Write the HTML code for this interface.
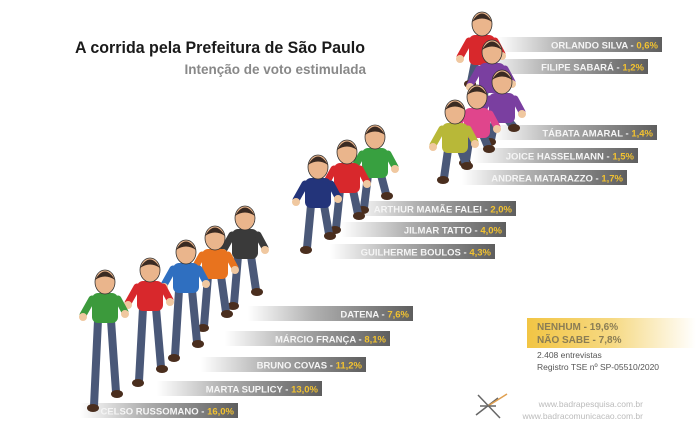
<!DOCTYPE html>
<html><head><meta charset="utf-8">
<style>
html,body{margin:0;padding:0;background:#fff;}
svg{display:block;font-family:"Liberation Sans",sans-serif;}
</style></head>
<body>
<svg id="chart" width="696" height="430" viewBox="0 0 696 430">
<defs>
<linearGradient id="barG" x1="0" x2="1" y1="0" y2="0">
<stop offset="0" stop-color="#ffffff"/>
<stop offset="0.4" stop-color="#b0b0b0"/>
<stop offset="1" stop-color="#5e5e5e"/>
</linearGradient>
<linearGradient id="yelG" x1="0" x2="1" y1="0" y2="0">
<stop offset="0" stop-color="#f2c544"/>
<stop offset="0.5" stop-color="#f6d982"/>
<stop offset="1" stop-color="#ffffff"/>
</linearGradient>
</defs>
<text x="75" y="53" font-size="17" fill="#1a1a1a" font-weight="bold" textLength="290" lengthAdjust="spacingAndGlyphs">A corrida pela Prefeitura de São Paulo</text>
<text x="366" y="74" font-size="13.5" fill="#888" font-weight="bold" text-anchor="end">Intenção de voto estimulada</text>
<g id="bars"></g>
<g id="figs"></g>
<rect x="527" y="318" width="169" height="30" fill="url(#yelG)"/>
<text x="537" y="330" font-size="10" font-weight="bold" fill="#8a7d55">NENHUM - 19,6%</text>
<text x="537" y="343" font-size="10" font-weight="bold" fill="#8a7d55">NÃO SABE - 7,8%</text>
<text x="537" y="358" font-size="8.5" fill="#555">2.408 entrevistas</text>
<text x="537" y="370" font-size="8.5" fill="#555">Registro TSE nº SP-05510/2020</text>
<g stroke="#666" stroke-width="1.5">
<line x1="478" y1="395" x2="500" y2="418"/><line x1="476" y1="415" x2="498" y2="398"/>
<line x1="488" y1="406" x2="507" y2="394" stroke="#e0a050"/><line x1="480" y1="406" x2="496" y2="406"/>
</g>
<text x="643" y="407" font-size="8.5" fill="#bbb" text-anchor="end">www.badrapesquisa.com.br</text>
<text x="643" y="419" font-size="8.5" fill="#bbb" text-anchor="end">www.badracomunicacao.com.br</text>
</svg>
<script>
const names = ["CELSO RUSSOMANO","MARTA SUPLICY","BRUNO COVAS","MÁRCIO FRANÇA","DATENA","GUILHERME BOULOS","JILMAR TATTO","ARTHUR MAMÃE FALEI","ANDREA MATARAZZO","JOICE HASSELMANN","TÁBATA AMARAL","FILIPE SABARÁ","ORLANDO SILVA"];
const values = [16.0,13.0,11.2,8.1,7.6,4.3,4.0,2.0,1.7,1.5,1.4,1.2,0.6];
const shirts = ["#3c9a3c","#d8282c","#2f6fc0","#e8731e","#3a3a3a","#23347a","#d8282c","#38a040","#b8b838","#e0458c","#7a3fa0","#7a3fa0","#d8282c"];
// layout only (not data): bar right end / top, figure head, figure feet
const layout = [[238,403],[322,381],[366,357],[390,331],[413,306],[495,244],[506,222],[516,201],[627,170],[638,148],[657,125],[648,59],[662,37]];
const heads = [[105,282],[150,270],[186,252],[215,238],[245,218],[318,167],[347,152],[375,137],[455,112],[477,97],[502,82],[492,52],[482,24]];
const feet = [410,385,360,330,308,252,232,212,182,165,138,100,75];
const order = [12,11,10,9,8,7,6,5,4,3,2,1,0];
const ns="http://www.w3.org/2000/svg";
const fmt=v=>v.toFixed(1).replace('.',',')+'%';
const bars=document.getElementById('bars'), figs=document.getElementById('figs');
function mk(tag,attrs,parent){const e=document.createElementNS(ns,tag);for(const k in attrs)e.setAttribute(k,attrs[k]);parent.appendChild(e);return e;}
names.forEach((n,i)=>{
  const [rx,y]=layout[i];
  const g=mk('g',{},bars);
  
  
  const w=Math.min(165,rx-80);
  mk('rect',{x:rx-w,y:y,width:w,height:15,fill:'url(#barG)'},g);
  const t=mk('text',{x:rx-4,y:y+11.5,'font-size':'9.5','font-weight':'bold','text-anchor':'end',fill:'#f5f5f5'},g);
  
  
  t.appendChild(document.createTextNode(n+' - '));
  const s=mk('tspan',{fill:'#f2c230'},t);s.textContent=fmt(values[i]);
});
order.forEach(i=>{
  const [hx,hy]=heads[i];
  const lb=Math.max(feet[i],hy+62);
  const f=mk('g',{},figs);
  
  
  mk('path',{d:`M${hx-7} ${hy+38} L${hx-11} ${lb-4} M${hx+6} ${hy+38} L${hx+11} ${lb-18}`,stroke:'#4a5878','stroke-width':8,'stroke-linecap':'round',fill:'none'},f);
  mk('ellipse',{cx:hx-12,cy:lb-2,rx:6,ry:4,fill:'#4a2e1e'},f);
  mk('ellipse',{cx:hx+12,cy:lb-16,rx:6,ry:4,fill:'#4a2e1e'},f);
  mk('rect',{x:hx-13,y:hy+11,width:26,height:30,rx:6,fill:shirts[i]},f);
  mk('path',{d:`M${hx-13} ${hy+17} L${hx-22} ${hy+33} M${hx+13} ${hy+17} L${hx+20} ${hy+30}`,stroke:shirts[i],'stroke-width':7,'stroke-linecap':'round'},f);
  mk('circle',{cx:hx-22,cy:hy+35,r:4,fill:'#f0c8a0'},f);
  mk('circle',{cx:hx+20,cy:hy+32,r:4,fill:'#f0c8a0'},f);
  mk('ellipse',{cx:hx,cy:hy,rx:10,ry:12,fill:'#eab58c',stroke:'#333','stroke-width':0.8},f);
  mk('path',{d:`M${hx-10} ${hy-2} Q${hx} ${hy-19} ${hx+10} ${hy-2} Q${hx} ${hy-9} ${hx-10} ${hy-2}`,fill:'#3a2a22'},f);
});
</script>
</body></html>
